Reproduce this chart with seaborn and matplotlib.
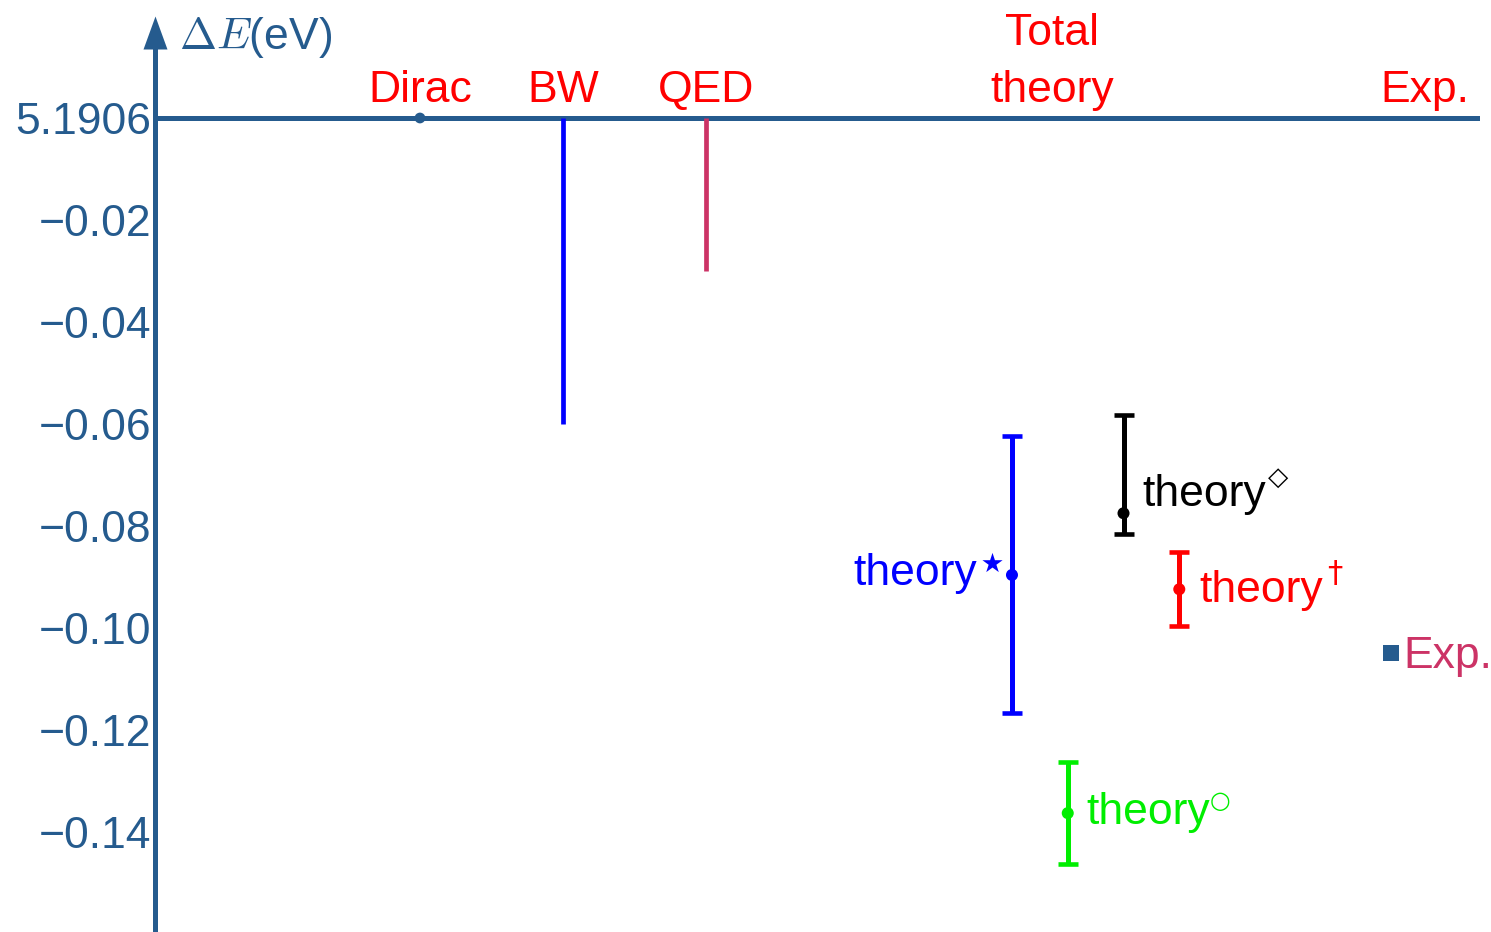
import matplotlib
matplotlib.use("Agg")
import matplotlib.pyplot as plt
import seaborn as sns
import pandas as pd
from matplotlib.textpath import TextPath
from matplotlib.font_manager import FontProperties

# Energy shifts relative to the Dirac value (eV)
reference_label = "5.1906"
stage_names = ["Dirac", "BW", "QED"]
stage_shift = [0.0, -0.0600, -0.0300]

theory_names = ["theory", "theory", "theory", "theory"]
theory_marks = ["\u22c6", "\u25cb", "\u25c7", "\u2020"]
theory_value = [-0.0896, -0.1363, -0.0775, -0.0924]
theory_low = [-0.1167, -0.1463, -0.0816, -0.0996]
theory_high = [-0.0624, -0.1263, -0.0582, -0.0851]

exp_value = -0.1049

y_ticks = [0.0, -0.02, -0.04, -0.06, -0.08, -0.10, -0.12, -0.14]
y_tick_labels = [reference_label, "\u22120.02", "\u22120.04", "\u22120.06", "\u22120.08",
                 "\u22120.10", "\u22120.12", "\u22120.14"]

sns.set_style("white")
plt.rcParams["font.family"] = ["Liberation Sans", "DejaVu Sans"]
plt.rcParams["mathtext.fontset"] = "dejavusans"

AXIS = "#255b8e"
CRIMSON = "#cc3366"
theory_colors = ["#0000ff", "#00ee00", "#000000", "#ff0000"]
stage_colors = [AXIS, "#0000ff", CRIMSON]
FS = 32
DPI = 100

W, H = 1491, 932
fig = plt.figure(figsize=(W / DPI, H / DPI), dpi=DPI)
ax = fig.add_axes([155 / W, 0, (1480 - 155) / W, (H - 49) / H])
ax.set_xlim(-0.853, 8.413)
ax.set_ylim(-(H - 118) / 5100, (118 - 49) / 5100)

for s in ["top", "right", "bottom"]:
    ax.spines[s].set_visible(False)
ax.spines["left"].set_color(AXIS)
ax.spines["left"].set_linewidth(3.6)

# arrow head on the energy axis
ax.plot([0], [1], transform=ax.transAxes, clip_on=False, color=AXIS,
        marker=[(-12, 0), (12, 0), (0, 33)], markersize=47.5, markeredgewidth=0, zorder=5)

ax.axhline(0, color=AXIS, lw=3.6, zorder=2)

ax.set_yticks(y_ticks)
ax.set_yticklabels(y_tick_labels)
ax.set_xticks([])
ax.tick_params(axis="y", direction="in", length=9.5, width=3, color=AXIS,
               labelcolor=AXIS, labelsize=FS, pad=2.5)
ax.grid(False)

# contribution stages
stage_x = [1, 2, 3]
ax.vlines(stage_x[1:], 0, stage_shift[1:], colors=stage_colors[1:], lw=3.4, zorder=3)
sns.scatterplot(x=[stage_x[0]], y=[stage_shift[0]], color=AXIS, s=60, edgecolor="none",
                ax=ax, zorder=4, legend=False)

label_kw = dict(textcoords="offset pixels", ha="center", va="bottom",
                color="#ff0000", fontsize=FS, annotation_clip=False)
for name, x in zip(stage_names, stage_x):
    ax.annotate(name, xy=(x, 0), xytext=(0, 7), **label_kw)
ax.annotate("Total\ntheory", xy=(5.42, 0), xytext=(0, 7), linespacing=1.5, **label_kw)
ax.annotate("Exp.", xy=(8.03, 0), xytext=(0, 7), **label_kw)

# total theory predictions with uncertainty ranges
theory_x = [5.14, 5.53, 5.92, 6.31]
df = pd.DataFrame({"x": theory_x, "value": theory_value, "name": theory_marks})
for x, v, lo, hi, c in zip(theory_x, theory_value, theory_low, theory_high, theory_colors):
    ax.errorbar([x], [v], yerr=[[v - lo], [hi - v]], fmt="none", ecolor=c,
                elinewidth=3.6, capsize=7.5, capthick=3.3, zorder=3)
sns.scatterplot(data=df, x="x", y="value", hue="name",
                palette=dict(zip(theory_marks, theory_colors)),
                s=75, edgecolor="none", legend=False, ax=ax, zorder=4)

# labels: (x offset, baseline offset, alignment) in pixels from the central value
text_offsets = [(-35, -10, "right"), (19, -11, "left"), (19, 7, "left"), (20, -13, "left")]
# superscript marks: (font size, gap after the word, height of the mark's foot above the baseline)
mark_style = [(38, 5, 13), (17, 1, 13), (19, 2, 18), (22, 5, 17)]
mark_font = FontProperties(family="DejaVu Sans")

for x, v, name, mark, c, (dx, dy, ha), (mfs, gap, rise) in zip(
        theory_x, theory_value, theory_names, theory_marks, theory_colors,
        text_offsets, mark_style):
    word = ax.annotate(name, xy=(x, v), xytext=(dx, dy), textcoords="offset pixels",
                       ha=ha, va="baseline", color=c, fontsize=FS)
    ext = TextPath((0, 0), mark, size=mfs * DPI / 72, prop=mark_font).get_extents()
    ax.annotate(mark, xy=(1.0, v), xycoords=(word, "data"),
                xytext=(gap - ext.x0, dy + rise - ext.y0), textcoords="offset pixels",
                ha="left", va="baseline", color=c, fontsize=mfs, family="DejaVu Sans")

# experimental value
sns.scatterplot(x=[7.79], y=[exp_value], marker="s", color=AXIS, s=135,
                edgecolor="none", ax=ax, zorder=4, legend=False)
ax.annotate("Exp.", xy=(7.79, exp_value), xytext=(12, -4), textcoords="offset pixels",
            ha="left", va="center", color=CRIMSON, fontsize=FS, annotation_clip=False)

ax.set_xlabel("")
ax.set_ylabel("")

# axis title
ax.annotate("$\\Delta E$(eV)", xy=(0, 1), xycoords="axes fraction", xytext=(24, 11),
            textcoords="offset pixels", ha="left", va="center", color=AXIS,
            fontsize=FS, math_fontfamily="cm", annotation_clip=False)

fig.savefig("out.png", dpi=DPI)
